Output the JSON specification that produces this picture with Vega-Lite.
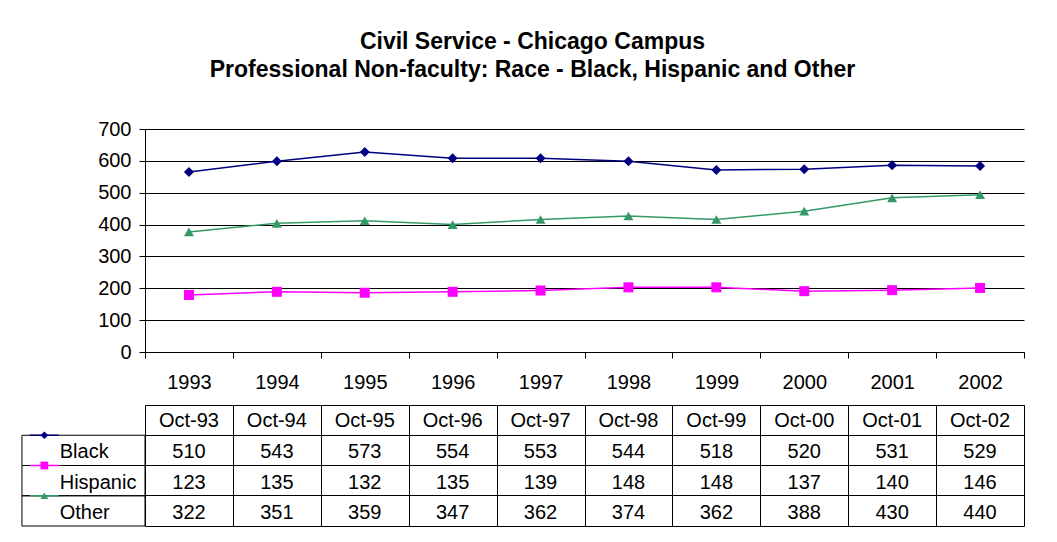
{
  "$schema": "https://vega.github.io/schema/vega-lite/v6.json",
  "background": "white",
  "padding": {"left": 20, "top": 31, "right": 20, "bottom": 10},
  "title": {
    "text": ["Civil Service - Chicago Campus", "Professional Non-faculty: Race - Black, Hispanic and Other"],
    "font": "Liberation Sans",
    "fontSize": 23,
    "fontWeight": "bold",
    "color": "#000000",
    "anchor": "middle",
    "lineHeight": 28,
    "offset": 37,
    "dx": -12
  },
  "datasets": {
    "d": [
      {"year": 1993, "month": "Oct-93", "series": "Black", "value": 510, "plot": 565},
      {"year": 1994, "month": "Oct-94", "series": "Black", "value": 543, "plot": 599},
      {"year": 1995, "month": "Oct-95", "series": "Black", "value": 573, "plot": 628},
      {"year": 1996, "month": "Oct-96", "series": "Black", "value": 554, "plot": 608},
      {"year": 1997, "month": "Oct-97", "series": "Black", "value": 553, "plot": 608},
      {"year": 1998, "month": "Oct-98", "series": "Black", "value": 544, "plot": 599},
      {"year": 1999, "month": "Oct-99", "series": "Black", "value": 518, "plot": 571},
      {"year": 2000, "month": "Oct-00", "series": "Black", "value": 520, "plot": 574},
      {"year": 2001, "month": "Oct-01", "series": "Black", "value": 531, "plot": 586},
      {"year": 2002, "month": "Oct-02", "series": "Black", "value": 529, "plot": 584},
      {"year": 1993, "month": "Oct-93", "series": "Hispanic", "value": 123, "plot": 179},
      {"year": 1994, "month": "Oct-94", "series": "Hispanic", "value": 135, "plot": 189},
      {"year": 1995, "month": "Oct-95", "series": "Hispanic", "value": 132, "plot": 186},
      {"year": 1996, "month": "Oct-96", "series": "Hispanic", "value": 135, "plot": 189},
      {"year": 1997, "month": "Oct-97", "series": "Hispanic", "value": 139, "plot": 193},
      {"year": 1998, "month": "Oct-98", "series": "Hispanic", "value": 148, "plot": 203},
      {"year": 1999, "month": "Oct-99", "series": "Hispanic", "value": 148, "plot": 203},
      {"year": 2000, "month": "Oct-00", "series": "Hispanic", "value": 137, "plot": 191},
      {"year": 2001, "month": "Oct-01", "series": "Hispanic", "value": 140, "plot": 194},
      {"year": 2002, "month": "Oct-02", "series": "Hispanic", "value": 146, "plot": 201},
      {"year": 1993, "month": "Oct-93", "series": "Other", "value": 322, "plot": 377},
      {"year": 1994, "month": "Oct-94", "series": "Other", "value": 351, "plot": 404},
      {"year": 1995, "month": "Oct-95", "series": "Other", "value": 359, "plot": 412},
      {"year": 1996, "month": "Oct-96", "series": "Other", "value": 347, "plot": 400},
      {"year": 1997, "month": "Oct-97", "series": "Other", "value": 362, "plot": 416},
      {"year": 1998, "month": "Oct-98", "series": "Other", "value": 374, "plot": 427},
      {"year": 1999, "month": "Oct-99", "series": "Other", "value": 362, "plot": 416},
      {"year": 2000, "month": "Oct-00", "series": "Other", "value": 388, "plot": 442},
      {"year": 2001, "month": "Oct-01", "series": "Other", "value": 430, "plot": 484},
      {"year": 2002, "month": "Oct-02", "series": "Other", "value": 440, "plot": 494}
    ]
  },
  "spacing": 12,
  "vconcat": [
    {
      "width": 879,
      "height": 223,
      "view": {"stroke": null},
      "data": {"name": "d"},
      "encoding": {
        "x": {
          "field": "year",
          "type": "quantitative",
          "scale": {"domain": [1992.5, 2002.5], "nice": false, "zero": false},
          "axis": {
            "title": null,
            "values": [1992.5, 1993.5, 1994.5, 1995.5, 1996.5, 1997.5, 1998.5, 1999.5, 2000.5, 2001.5, 2002.5],
            "grid": false,
            "tickSize": 6,
            "tickColor": "#000000",
            "domainColor": "#000000",
            "labelExpr": "datum.value < 2002 ? format(datum.value + 0.5, 'd') : ''",
            "labelOffset": 44,
            "labelPadding": 14,
            "labelFlush": false,
            "labelOverlap": false,
            "labelFont": "Liberation Sans",
            "labelFontSize": 20,
            "labelColor": "#000000"
          }
        },
        "y": {
          "field": "plot",
          "type": "quantitative",
          "scale": {"domain": [0, 700], "nice": false},
          "axis": {
            "title": null,
            "values": [0, 100, 200, 300, 400, 500, 600, 700],
            "grid": true,
            "gridColor": "#000000",
            "gridOpacity": 1,
            "gridWidth": 1,
            "tickSize": 6,
            "tickColor": "#000000",
            "domainColor": "#000000",
            "labelPadding": 8,
            "labelFont": "Liberation Sans",
            "labelFontSize": 20,
            "labelColor": "#000000"
          }
        },
        "color": {
          "field": "series",
          "type": "nominal",
          "scale": {"domain": ["Black", "Hispanic", "Other"], "range": ["#000080", "#FF00FF", "#339966"]},
          "legend": null
        }
      },
      "layer": [
        {"mark": {"type": "line", "strokeWidth": 1.5}},
        {
          "mark": {"type": "point", "filled": true, "size": 100, "opacity": 1},
          "encoding": {
            "shape": {
              "field": "series",
              "type": "nominal",
              "scale": {"domain": ["Black", "Hispanic", "Other"], "range": ["diamond", "square", "triangle-up"]},
              "legend": null
            }
          }
        }
      ]
    },
    {
      "width": 879,
      "height": 121,
      "view": {"stroke": "#000000", "strokeWidth": 1},
      "data": {"name": "d"},
      "encoding": {
        "x": {
          "field": "year",
          "type": "quantitative",
          "scale": {"domain": [1992.5, 2002.5], "nice": false, "zero": false},
          "axis": {
            "title": null,
            "values": [1993.5, 1994.5, 1995.5, 1996.5, 1997.5, 1998.5, 1999.5, 2000.5, 2001.5],
            "grid": true,
            "gridColor": "#000000",
            "gridOpacity": 1,
            "labels": false,
            "ticks": false,
            "domain": false
          }
        },
        "y": {
          "field": "series",
          "type": "ordinal",
          "scale": {"domain": ["hdr", "Black", "Hispanic", "Other"], "paddingInner": 0, "paddingOuter": 0},
          "axis": {
            "title": null,
            "grid": true,
            "gridColor": "#000000",
            "gridOpacity": 1,
            "bandPosition": 0,
            "labels": false,
            "ticks": false,
            "domain": false
          }
        }
      },
      "layer": [
        {
          "mark": {"type": "text", "font": "Liberation Sans", "fontSize": 20, "color": "#000000", "baseline": "middle", "dy": 2},
          "encoding": {"text": {"field": "value", "type": "quantitative"}}
        },
        {
          "transform": [{"filter": "datum.series == 'Black'"}],
          "mark": {"type": "text", "font": "Liberation Sans", "fontSize": 20, "color": "#000000", "baseline": "middle", "dy": 1},
          "encoding": {
            "text": {"field": "month", "type": "nominal"},
            "y": {"datum": "hdr", "type": "ordinal"}
          }
        },
        {
          "transform": [{"filter": "datum.year == 1993"}],
          "mark": {"type": "rect", "fill": null, "stroke": "#000000", "strokeWidth": 1},
          "encoding": {
            "x": {"datum": 1991.1, "type": "quantitative"},
            "x2": {"datum": 1992.5}
          }
        },
        {
          "transform": [{"filter": "datum.year == 1993"}],
          "mark": {"type": "text", "font": "Liberation Sans", "fontSize": 20, "color": "#000000", "align": "left", "baseline": "middle", "dy": 2},
          "encoding": {
            "x": {"datum": 1991.53, "type": "quantitative"},
            "text": {"field": "series", "type": "nominal"}
          }
        },
        {
          "transform": [{"filter": "datum.year == 1993"}],
          "mark": {"type": "rule", "strokeWidth": 1.5},
          "encoding": {
            "x": {"datum": 1991.19, "type": "quantitative"},
            "x2": {"datum": 1991.52},
            "y": {"field": "series", "type": "ordinal", "bandPosition": 0},
            "color": {
              "field": "series",
              "type": "nominal",
              "scale": {"domain": ["Black", "Hispanic", "Other"], "range": ["#000080", "#FF00FF", "#339966"]},
              "legend": null
            }
          }
        },
        {
          "transform": [{"filter": "datum.year == 1993"}],
          "mark": {"type": "point", "filled": true, "size": 60, "opacity": 1},
          "encoding": {
            "x": {"datum": 1991.355, "type": "quantitative"},
            "y": {"field": "series", "type": "ordinal", "bandPosition": 0},
            "color": {
              "field": "series",
              "type": "nominal",
              "scale": {"domain": ["Black", "Hispanic", "Other"], "range": ["#000080", "#FF00FF", "#339966"]},
              "legend": null
            },
            "shape": {
              "field": "series",
              "type": "nominal",
              "scale": {"domain": ["Black", "Hispanic", "Other"], "range": ["diamond", "square", "triangle-up"]},
              "legend": null
            }
          }
        }
      ]
    }
  ],
  "config": {
    "font": "Liberation Sans"
  }
}
